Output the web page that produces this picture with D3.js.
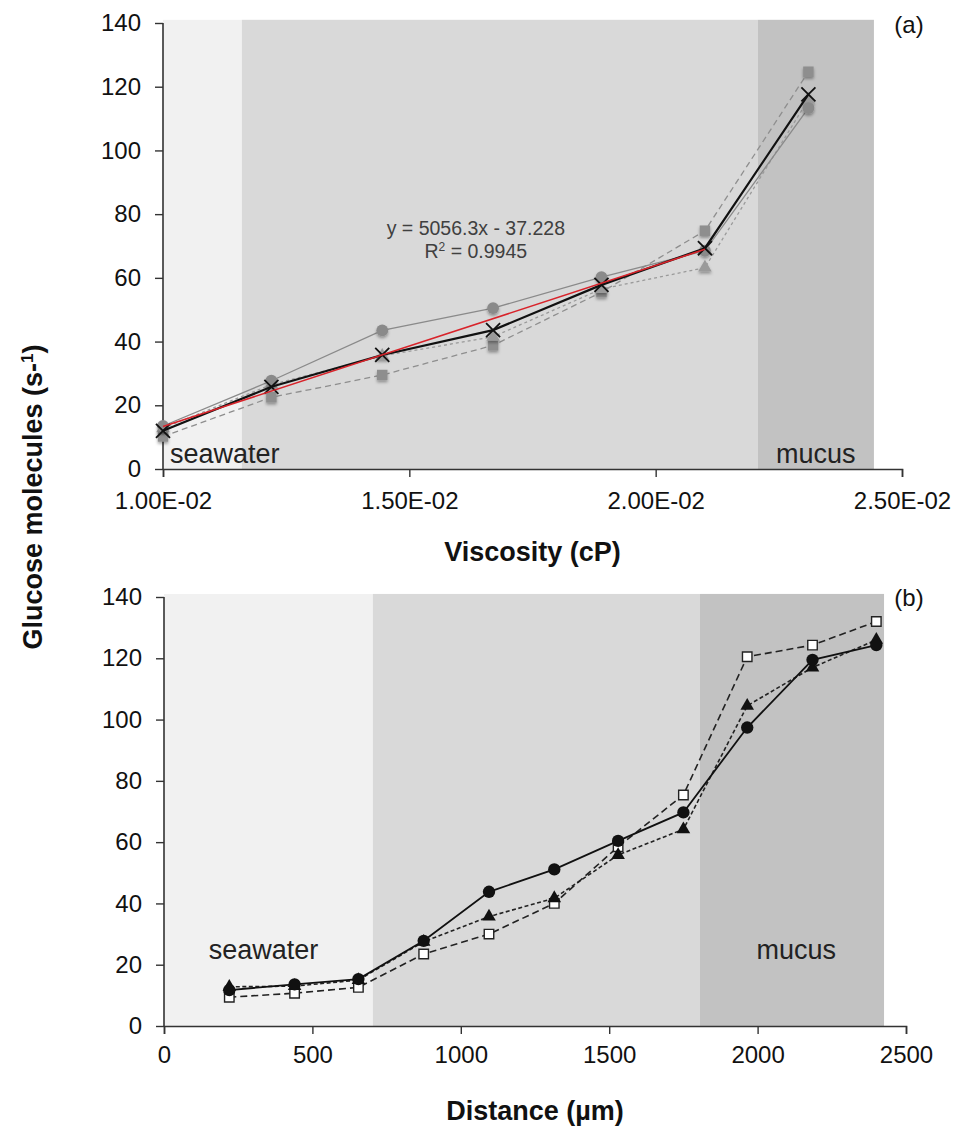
<!DOCTYPE html>
<html>
<head>
<meta charset="utf-8">
<title>Glucose molecules vs viscosity and distance</title>
<style>
  body { margin: 0; background: #fff; }
  text { font-family: "Liberation Sans", Arial, sans-serif; }
</style>
</head>
<body>
<svg width="959" height="1131"></svg>
<script src="https://d3js.org/d3.v7.min.js"></script>
<script>
// ---- panel (a): uptake vs viscosity ----
var viscosity  = [0.0100, 0.0122, 0.01445, 0.0167, 0.0189, 0.0210, 0.0231];
var meanA      = [12.0, 25.8, 35.8, 43.6, 57.8, 69.3, 117.6];
var circlesA   = [13.5, 27.7, 43.5, 50.5, 60.2, 68.5, 113.3];
var trianglesA = [12.8, 26.5, 35.5, 41.5, 56.5, 63.2, 116.0];
var squaresA   = [10.2, 22.5, 29.5, 38.8, 55.5, 74.8, 124.7];
var fitSlope = 5056.3, fitIntercept = -37.228;
var fitRange = [0.0100, 0.0210];
var viscTicks = [0.010, 0.015, 0.020, 0.025];
var zoneNamesA = ["seawater", "", "mucus"];
var zoneEdgesA = [0.0100, 0.0116, 0.02207, 0.02443];

// ---- panel (b): uptake vs distance ----
var distance   = [220, 440, 655, 875, 1095, 1315, 1530, 1750, 1965, 2185, 2400];
var circlesB   = [11.7, 13.6, 15.3, 27.8, 43.8, 51.1, 60.4, 69.7, 97.4, 119.5, 124.3];
var trianglesB = [12.8, 13.0, 15.0, 27.5, 35.7, 41.7, 55.8, 64.2, 104.5, 117.0, 126.0];
var squaresB   = [9.4, 10.7, 12.6, 23.5, 30.0, 40.0, 58.5, 75.4, 120.5, 124.3, 132.0];
var distTicks = [0, 500, 1000, 1500, 2000, 2500];
var zoneNamesB = ["seawater", "", "mucus"];
var zoneEdgesB = [0, 704, 1806, 2426];

var yTicks = [0, 20, 40, 60, 80, 100, 120, 140];
var zoneFill = ["#f1f1f1", "#d9d9d9", "#c2c2c2"];

var svg = d3.select("svg");
svg.append("rect").attr("width", 959).attr("height", 1131).attr("fill", "#fff");

var defs = svg.append("defs");
defs.append("filter").attr("id", "soft")
  .attr("x", "-50%").attr("y", "-50%").attr("width", "200%").attr("height", "200%")
  .append("feDropShadow")
  .attr("dx", 0).attr("dy", 2).attr("stdDeviation", 1.5)
  .attr("flood-color", "#000").attr("flood-opacity", 0.35);

var xA = d3.scaleLinear().domain([0.010, 0.025]).range([163, 902]);
var yA = d3.scaleLinear().domain([0, 140]).range([469, 23]);
var xB = d3.scaleLinear().domain([0, 2500]).range([164, 906]);
var yB = d3.scaleLinear().domain([0, 140]).range([1026, 597]);

function sciFormat(v) {
  var s = v.toExponential(2).toUpperCase();
  return s.replace(/E([+-])(\d)$/, "E$10$2").replace("E+", "E");
}

function drawZones(g, x, y, edges, names) {
  for (var i = 0; i < names.length; i++) {
    g.append("rect")
      .attr("x", x(edges[i]))
      .attr("y", y(141))
      .attr("width", x(edges[i + 1]) - x(edges[i]))
      .attr("height", y(0) - y(141))
      .attr("fill", zoneFill[i]);
  }
}

function drawAxes(g, x, y, xTicks, fmt, pad) {
  var ax = g.append("g")
    .attr("transform", "translate(0," + y(0) + ")")
    .call(d3.axisBottom(x).tickValues(xTicks).tickFormat(fmt).tickSize(8).tickPadding(pad));
  var ay = g.append("g")
    .attr("transform", "translate(" + x.range()[0] + ",0)")
    .call(d3.axisLeft(y).tickValues(yTicks).tickSize(8).tickPadding(14));
  [ax, ay].forEach(function (a) {
    a.select(".domain").attr("stroke", "#333").attr("stroke-width", 1.6);
    a.selectAll(".tick line").attr("stroke", "#333").attr("stroke-width", 1.4);
    a.selectAll(".tick text").attr("fill", "#111").style("font-size", "24px")
      .style("font-family", '"Liberation Sans", Arial, sans-serif');
  });
  ay.select(".domain").attr("d", "M0," + y(140) + "V" + y(0));
}

function series(g, x, xs, ys, opt) {
  var pts = xs.map(function (d, i) { return [d, ys[i]]; });
  var line = d3.line().x(function (d) { return x(d[0]); }).y(function (d) { return opt.y(d[1]); });
  g.append("path")
    .attr("d", line(pts))
    .attr("fill", "none")
    .attr("stroke", opt.stroke)
    .attr("stroke-width", opt.width)
    .attr("stroke-dasharray", opt.dash || null);
  var sym = d3.symbol().type(opt.symbol).size(opt.size);
  g.selectAll(null).data(pts).enter().append("path")
    .attr("d", sym)
    .attr("transform", function (d) { return "translate(" + x(d[0]) + "," + opt.y(d[1]) + ")"; })
    .attr("fill", opt.fill)
    .attr("stroke", opt.mstroke || "none")
    .attr("stroke-width", opt.mwidth || 0)
    .attr("filter", opt.filter || null);
}

// ---------- panel (a) ----------
var gA = svg.append("g");
drawZones(gA, xA, yA, zoneEdgesA, zoneNamesA);
drawAxes(gA, xA, yA, viscTicks, sciFormat, 15);

series(gA, xA, viscosity, squaresA, { y: yA, stroke: "#8e8e8e", width: 1.3, dash: "6,4",
  symbol: d3.symbolSquare, size: 110, fill: "#8e8e8e", filter: "url(#soft)" });
series(gA, xA, viscosity, trianglesA, { y: yA, stroke: "#9a9a9a", width: 1.3, dash: "3,3",
  symbol: d3.symbolTriangle, size: 80, fill: "#9a9a9a", filter: "url(#soft)" });
series(gA, xA, viscosity, circlesA, { y: yA, stroke: "#8a8a8a", width: 1.3,
  symbol: d3.symbolCircle, size: 110, fill: "#8a8a8a", filter: "url(#soft)" });

series(gA, xA, viscosity, meanA, { y: yA, stroke: "#111", width: 2.2,
  symbol: d3.symbolX, size: 130, fill: "none", mstroke: "#111", mwidth: 1.8 });

gA.append("line")
  .attr("x1", xA(fitRange[0])).attr("y1", yA(fitSlope * fitRange[0] + fitIntercept))
  .attr("x2", xA(fitRange[1])).attr("y2", yA(fitSlope * fitRange[1] + fitIntercept))
  .attr("stroke", "#d8232a").attr("stroke-width", 1.6);

gA.append("text").attr("x", xA(0.01635)).attr("y", yA(73.6))
  .attr("text-anchor", "middle").attr("fill", "#404040")
  .style("font-size", "19.5px")
  .text("y = 5056.3x - 37.228");
var r2 = gA.append("text").attr("x", xA(0.01635)).attr("y", yA(66.3))
  .attr("text-anchor", "middle").attr("fill", "#404040")
  .style("font-size", "19.5px");
r2.append("tspan").text("R");
r2.append("tspan").attr("dy", -7).style("font-size", "12px").text("2");
r2.append("tspan").attr("dy", 7).text(" = 0.9945");

gA.append("text").attr("x", xA(0.01) + 7).attr("y", yA(2))
  .attr("fill", "#222").style("font-size", "27px").text(zoneNamesA[0]);
gA.append("text").attr("x", xA(0.02325)).attr("y", yA(2))
  .attr("text-anchor", "middle").attr("fill", "#222").style("font-size", "27px").text(zoneNamesA[2]);

gA.append("text").attr("x", 909).attr("y", yA(137))
  .attr("text-anchor", "middle").attr("fill", "#111").style("font-size", "24px").text("(a)");

gA.append("text").attr("x", xA(0.0175)).attr("y", 561)
  .attr("text-anchor", "middle").attr("fill", "#111")
  .style("font-size", "27px").style("font-weight", "bold").text("Viscosity (cP)");

// ---------- panel (b) ----------
var gB = svg.append("g");
drawZones(gB, xB, yB, zoneEdgesB, zoneNamesB);
drawAxes(gB, xB, yB, distTicks, d3.format("d"), 12);

series(gB, xB, distance, squaresB, { y: yB, stroke: "#222", width: 1.6, dash: "7,4",
  symbol: d3.symbolSquare, size: 90, fill: "#fff", mstroke: "#222", mwidth: 1.4 });
series(gB, xB, distance, trianglesB, { y: yB, stroke: "#222", width: 1.6, dash: "4,2.5",
  symbol: d3.symbolTriangle, size: 80, fill: "#111" });
series(gB, xB, distance, circlesB, { y: yB, stroke: "#111", width: 1.8,
  symbol: d3.symbolCircle, size: 120, fill: "#111" });

gB.append("text").attr("x", xB(335)).attr("y", yB(22)).attr("text-anchor", "middle")
  .attr("fill", "#222").style("font-size", "27px").text(zoneNamesB[0]);
gB.append("text").attr("x", xB(2130)).attr("y", yB(22))
  .attr("text-anchor", "middle").attr("fill", "#222").style("font-size", "27px").text(zoneNamesB[2]);

gB.append("text").attr("x", 909).attr("y", yB(137))
  .attr("text-anchor", "middle").attr("fill", "#111").style("font-size", "24px").text("(b)");

gB.append("text").attr("x", xB(1250)).attr("y", 1120)
  .attr("text-anchor", "middle").attr("fill", "#111")
  .style("font-size", "27px").style("font-weight", "bold").text("Distance (µm)");

// shared y title
var yt = svg.append("text")
  .attr("transform", "translate(42,497) rotate(-90)")
  .attr("text-anchor", "middle").attr("fill", "#111")
  .style("font-size", "27px").style("font-weight", "bold");
yt.append("tspan").text("Glucose molecules (s-");
yt.append("tspan").attr("dy", -9).style("font-size", "17px").text("1");
yt.append("tspan").attr("dy", 9).text(")");
</script>
</body>
</html>
